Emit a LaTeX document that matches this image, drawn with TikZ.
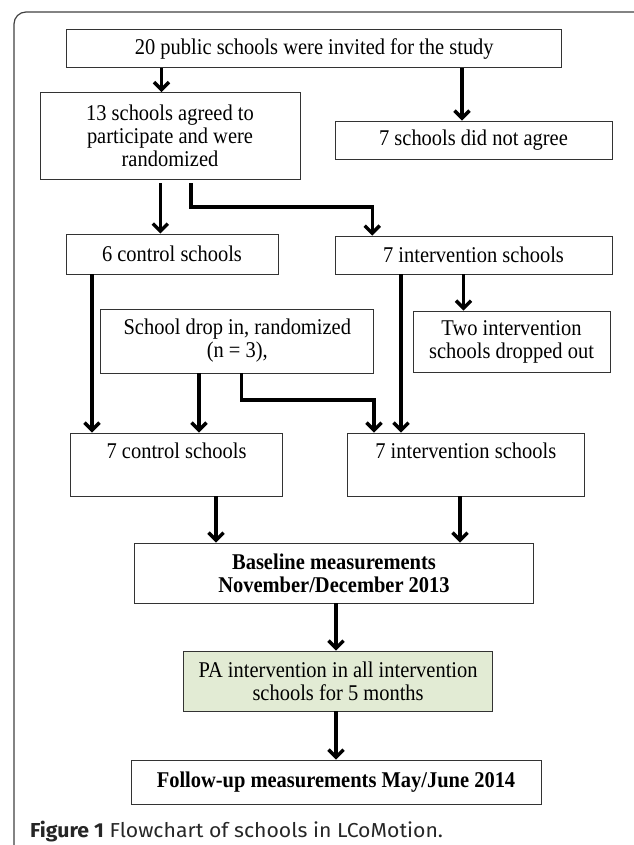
\documentclass[tikz,border=0pt]{standalone}
\usepackage{fontspec}
\setmainfont{Liberation Serif}[FakeStretch=0.91]
\newfontfamily\capfont{Fira Sans}[FakeStretch=1.05]
\usetikzlibrary{arrows.meta}

\definecolor{palegreen}{RGB}{226,235,212}
\tikzset{
    box/.style = {draw=black!80, line width=0.9pt, inner sep=0pt, align=center,
                  font=\fontsize{22.5}{23}\selectfont},
    arr/.style = {line width=3.4pt, -{Straight Barb[length=7.5pt, width=15pt]}},
}

\begin{document}
\begin{tikzpicture}[x=1pt, y=-1pt]
        \useasboundingbox (0,0) rectangle (633,845);
        \draw[black!75, line width=1.2pt, rounded corners=12pt] (14,880) -- (14,12) -- (660,12) -- (660,880);

        % boxes
        \node[box, minimum width=495, minimum height=38] (invited) at (314.3,48.8) {20 public schools were invited for the study};
        \node[box, minimum width=260, minimum height=87] (agreed) at (170,136) {13 schools agreed to\\participate and were\\randomized};
        \node[box, minimum width=277, minimum height=38] (refused) at (473.5,140) {7 schools did not agree};
        \node[box, minimum width=212, minimum height=40] (ctrlsix) at (172,254) {6 control schools};
        \node[box, minimum width=277, minimum height=38] (intseven) at (473.5,255) {7 intervention schools};
        \node[box, minimum width=273, minimum height=64] (dropin) at (237.3,341) {School drop in, randomized\\(n = 3),};
        \node[box, minimum width=197, minimum height=61] (dropout) at (511.5,341.5) {Two intervention\\schools dropped out};
        \node[box, text height=25.5pt, text depth=37.5pt, minimum width=212] (ctrlfinal) at (176.6,464.5) {7 control schools};
        \node[box, text height=25.5pt, text depth=37.5pt, minimum width=237.6] (intfinal) at (465.8,464.5) {7 intervention schools};
        \node[box, font=\fontsize{22.5}{23}\selectfont\bfseries, minimum width=399, minimum height=60] (baseline) at (334,573) {Baseline measurements\\November/December 2013};
        \node[box, fill=palegreen, minimum width=309, minimum height=60] (pa) at (338.1,681) {PA intervention in all intervention\\schools for 5 months};
        \node[box, font=\fontsize{22.5}{23}\selectfont\bfseries, minimum width=410, minimum height=44] (followup) at (336,782) {Follow-up measurements May/June 2014};

        % arrow columns
        \coordinate (xa) at (161.5,0);
        \coordinate (xb) at (462,0);
        \coordinate (xc) at (160.3,0);
        \coordinate (xd) at (191,0);
        \coordinate (xe) at (372.2,0);
        \coordinate (xf) at (92,0);
        \coordinate (xg) at (199,0);
        \coordinate (xh) at (241.4,0);
        \coordinate (xi) at (374,0);
        \coordinate (xj) at (401,0);
        \coordinate (xk) at (463.5,0);
        \coordinate (xl) at (216,0);
        \coordinate (xm) at (460,0);
        \coordinate (xn) at (336,0);
        \coordinate (bendA) at (0,207);
        \coordinate (bendB) at (0,400);

        % arrows
        \draw[arr] (invited.south -| xa) -- (agreed.north -| xa);
        \draw[arr] (invited.south -| xb) -- (refused.north -| xb);
        \draw[arr, shorten <=3.5pt] (agreed.south -| xc) -- (ctrlsix.north -| xc);
        \draw[arr, shorten <=3.5pt] (agreed.south -| xd) -- (xd |- bendA) -| (intseven.north -| xe);
        \draw[arr] (ctrlsix.south -| xf) -- (ctrlfinal.north -| xf);
        \draw[arr] (dropin.south -| xg) -- (ctrlfinal.north -| xg);
        \draw[arr] (dropin.south -| xh) -- (xh |- bendB) -| (intfinal.north -| xi);
        \draw[arr] (intseven.south -| xj) -- (intfinal.north -| xj);
        \draw[arr] (intseven.south -| xk) -- (dropout.north -| xk);
        \draw[arr] (ctrlfinal.south -| xl) -- (baseline.north -| xl);
        \draw[arr] (intfinal.south -| xm) -- (baseline.north -| xm);
        \draw[arr] (baseline.south -| xn) -- (pa.north -| xn);
        \draw[arr] (pa.south -| xn) -- (followup.north -| xn);

        \node[anchor=base west, inner sep=0pt, font=\capfont\fontsize{20.2}{24}\selectfont, text=black!85] (caption) at (30,837) {\textbf{Figure 1} Flowchart of schools in LCoMotion.};
\end{tikzpicture}
\end{document}
